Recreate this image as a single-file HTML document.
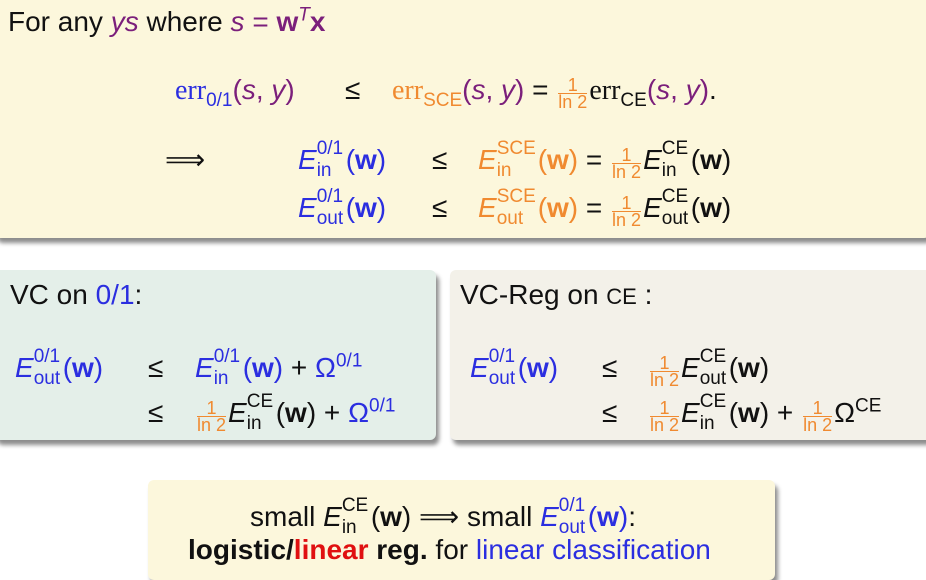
<!DOCTYPE html>
<html><head><meta charset="utf-8"><style>
body{margin:0;width:926px;height:567px;background:#fff;position:relative;overflow:hidden;font-family:"Liberation Sans",sans-serif;font-size:28px;color:#111}
.box{position:absolute;border-radius:6px;box-shadow:3px 5px 4px rgba(0,0,0,0.45)}
.t{position:absolute;line-height:28px;white-space:nowrap}
.b{color:#2b2ee0}.o{color:#f08a30}.p{color:#7b1f7b}.r{color:#e01010}.k{color:#111}
.ser{font-family:"Liberation Serif",serif}
i{font-style:italic}
.ss{display:inline-block;position:relative;width:0;height:0;vertical-align:baseline}
.ss span{position:absolute;left:0;font-size:19px;line-height:19px;font-style:normal}
.sp{top:-30px}.sb{top:-8px}
.m{margin-left:29px}.ms{margin-left:41px}
.fr{display:inline-block;vertical-align:-9px;text-align:center;font-size:18px;line-height:16px;margin:0 2px}
.fr span{display:block}.fr .n{border-bottom:1px solid currentColor;padding:0 1px}
sup{font-size:19px;line-height:0}
.su{font-size:19px;vertical-align:-7px;line-height:0}
</style></head><body>
<div class="box" style="left:-6px;top:-6px;width:936px;height:244px;background:#fcf7dc"></div>
<div class="box" style="left:-6px;top:270px;width:442px;height:170px;background:#e4efe9"></div>
<div class="box" style="left:450px;top:270px;width:482px;height:170px;background:#f3f1e9"></div>
<div class="box" style="left:148px;top:480px;width:627px;height:100px;background:#fcf7dc"></div>

<div class="t" style="left:8px;top:8px">For any <i class="p">y</i><i class="p">s</i> where <i class="p">s</i> <span class="p">=</span> <b class="p">w</b><sup class="p"><i>T</i></sup><b class="p">x</b></div>

<div class="t" style="left:175px;top:76px"><span class="b ser">err</span><span class="b su">0/1</span><span class="p">(<i>s</i>, <i>y</i>)</span></div>
<div class="t" style="left:345px;top:76px">≤</div>
<div class="t" style="left:392px;top:76px"><span class="o ser">err</span><span class="o su">SCE</span><span class="p">(<i>s</i>, <i>y</i>)</span> = <span class="fr o"><span class="n">1</span><span>ln 2</span></span><span class="ser">err</span><span class="su">CE</span><span class="p">(<i>s</i>, <i>y</i>)</span>.</div>

<div class="t" style="left:165px;top:146px">⟹</div>
<div class="t b" style="left:298px;top:146px"><i>E</i><span class="ss"><span class="sp">0/1</span><span class="sb">in</span></span><span class="m">(<b>w</b>)</span></div>
<div class="t" style="left:432px;top:146px">≤</div>
<div class="t" style="left:478px;top:146px"><span class="o"><i>E</i><span class="ss"><span class="sp">SCE</span><span class="sb">in</span></span><span class="ms">(<b>w</b>)</span></span> = <span class="fr o"><span class="n">1</span><span>ln 2</span></span><i>E</i><span class="ss"><span class="sp">CE</span><span class="sb">in</span></span><span class="m">(<b>w</b>)</span></div>

<div class="t b" style="left:298px;top:194px"><i>E</i><span class="ss"><span class="sp">0/1</span><span class="sb">out</span></span><span class="m">(<b>w</b>)</span></div>
<div class="t" style="left:432px;top:194px">≤</div>
<div class="t" style="left:478px;top:194px"><span class="o"><i>E</i><span class="ss"><span class="sp">SCE</span><span class="sb">out</span></span><span class="ms">(<b>w</b>)</span></span> = <span class="fr o"><span class="n">1</span><span>ln 2</span></span><i>E</i><span class="ss"><span class="sp">CE</span><span class="sb">out</span></span><span class="m">(<b>w</b>)</span></div>

<div class="t" style="left:10px;top:281px">VC on <span class="b">0/1</span>:</div>
<div class="t b" style="left:15px;top:354px"><i>E</i><span class="ss"><span class="sp">0/1</span><span class="sb">out</span></span><span class="m">(<b>w</b>)</span></div>
<div class="t" style="left:148px;top:354px">≤</div>
<div class="t b" style="left:195px;top:354px"><i>E</i><span class="ss"><span class="sp">0/1</span><span class="sb">in</span></span><span class="m">(<b>w</b>)</span> <span class="k">+</span> Ω<sup>0/1</sup></div>
<div class="t" style="left:148px;top:399px">≤</div>
<div class="t" style="left:195px;top:399px"><span class="fr o"><span class="n">1</span><span>ln 2</span></span><i>E</i><span class="ss"><span class="sp">CE</span><span class="sb">in</span></span><span class="m">(<b>w</b>)</span> + <span class="b">Ω<sup>0/1</sup></span></div>

<div class="t" style="left:460px;top:281px">VC-Reg on <span style="font-size:22px">CE</span> :</div>
<div class="t b" style="left:470px;top:354px"><i>E</i><span class="ss"><span class="sp">0/1</span><span class="sb">out</span></span><span class="m">(<b>w</b>)</span></div>
<div class="t" style="left:602px;top:354px">≤</div>
<div class="t" style="left:648px;top:354px"><span class="fr o"><span class="n">1</span><span>ln 2</span></span><i>E</i><span class="ss"><span class="sp">CE</span><span class="sb">out</span></span><span class="m">(<b>w</b>)</span></div>
<div class="t" style="left:602px;top:399px">≤</div>
<div class="t" style="left:648px;top:399px"><span class="fr o"><span class="n">1</span><span>ln 2</span></span><i>E</i><span class="ss"><span class="sp">CE</span><span class="sb">in</span></span><span class="m">(<b>w</b>)</span> + <span class="fr o"><span class="n">1</span><span>ln 2</span></span>Ω<sup>CE</sup></div>

<div class="t" style="left:250px;top:503px">small <i>E</i><span class="ss"><span class="sp">CE</span><span class="sb">in</span></span><span class="m">(<b>w</b>)</span> ⟹ small <span class="b"><i>E</i><span class="ss"><span class="sp">0/1</span><span class="sb">out</span></span><span class="m">(<b>w</b>)</span></span>:</div>
<div class="t" style="left:188px;top:536px"><b>logistic/<span class="r">linear</span> reg.</b> for <span class="b">linear classification</span></div>
</body></html>
